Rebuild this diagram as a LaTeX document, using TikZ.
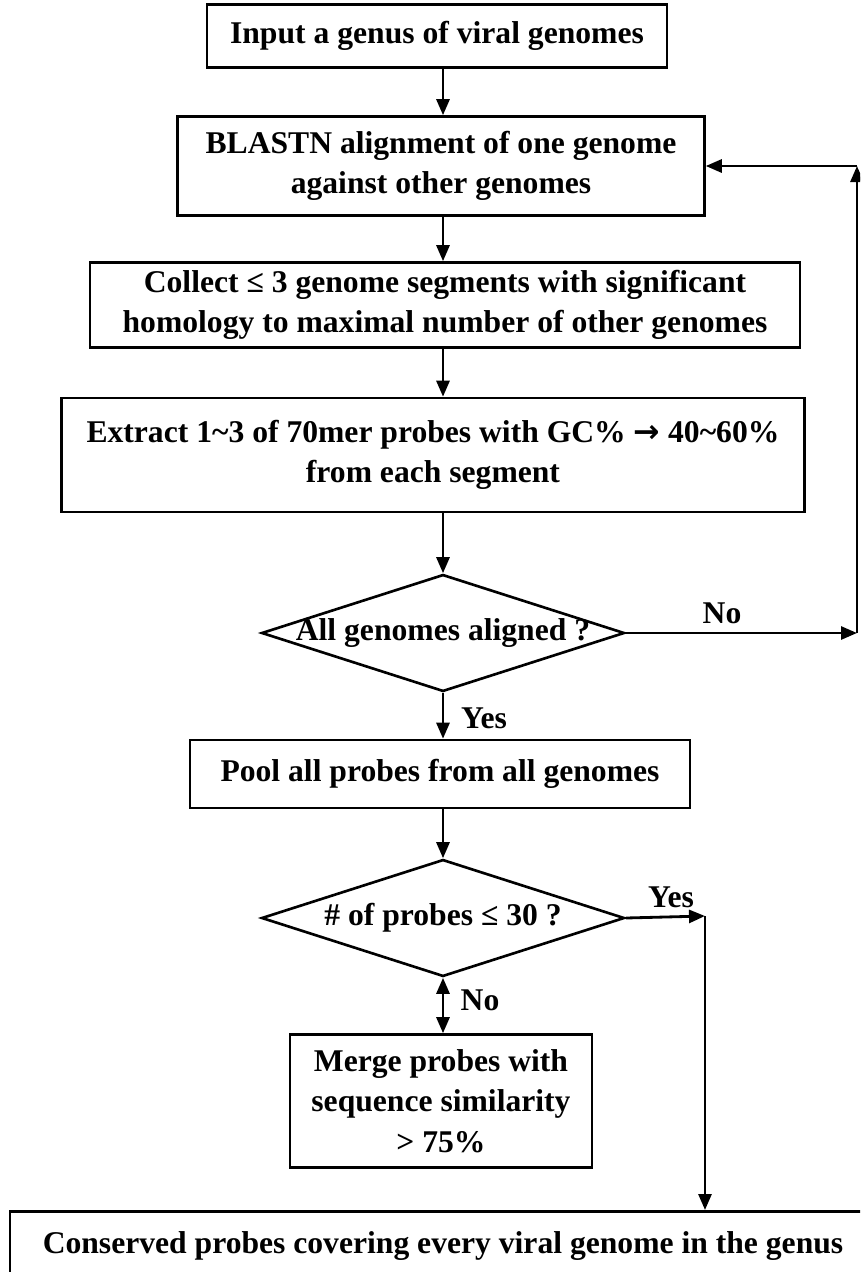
\documentclass[tikz,border=0pt]{standalone}
\usepackage{fontspec}
\setmainfont{Liberation Serif}
\newfontfamily\arrowfont{DejaVu Sans}
\usetikzlibrary{shapes.geometric,arrows.meta}
\begin{document}
\begin{tikzpicture}[x=0.02cm,y=-0.02cm,
    every node/.style={font=\fontsize{18}{23}\selectfont\bfseries},
    stepbox/.style={draw,line width=1.5pt,rectangle,align=center,inner sep=2pt},
    decision/.style={draw,line width=1.5pt,diamond,inner sep=0pt,minimum width=7.26cm,minimum height=2.34cm},
    tip/.style={Triangle[length=0.32cm,width=0.26cm]},
    flow/.style={line width=1.6pt,-{Triangle[length=0.32cm,width=0.26cm]}},
    twoway/.style={line width=1.6pt,{Triangle[length=0.32cm,width=0.26cm]}-{Triangle[length=0.32cm,width=0.26cm]}},
    tag/.style={inner sep=0pt}]
                \clip (0,0) rectangle (860,1272);
                \node[stepbox,minimum width=9.2cm,minimum height=1.26cm] (input) at (437,36) {Input a genus of viral genomes};
                \node[stepbox,minimum width=10.54cm,minimum height=1.98cm] (blast) at (441,166) {BLASTN alignment of one genome\\against other genomes};
                \node[stepbox,minimum width=14.2cm,minimum height=1.7cm] (collect) at (445,305) {Collect ≤ 3 genome segments with significant\\homology to maximal number of other genomes};
                \node[stepbox,minimum width=14.86cm,minimum height=2.28cm] (extract) at (433,455) {Extract 1\textasciitilde3 of 70mer probes with GC\% {\arrowfont →} 40\textasciitilde60\%\\from each segment};
                \node[decision,label={center:All genomes aligned ?}] (aligned) at (443,633) {};
                \node[stepbox,minimum width=10cm,minimum height=1.36cm] (pool) at (440,774) {Pool all probes from all genomes};
                \node[decision,label={center:\# of probes ≤ 30 ?}] (count) at (443,918) {};
                \node[stepbox,minimum width=6.04cm,minimum height=2.66cm] (merge) at (441,1101) {Merge probes with\\sequence similarity\\> 75\%};
                \node[stepbox,minimum width=17.32cm,minimum height=1.4cm,anchor=north] (final) at (443,1210) {Conserved probes covering every viral genome in the genus};

                \coordinate (noturn) at (857,633);
                \coordinate (noup) at (857,166);
                \coordinate (yesturn) at (705,916);

                \draw[flow] (input.south -| aligned) -- (blast.north -| aligned);
                \draw[flow] (blast.south -| aligned) -- (collect.north -| aligned);
                \draw[flow] (collect.south -| aligned) -- (extract.north -| aligned);
                \draw[flow] (extract.south -| aligned) -- (aligned.north);
                \draw[flow] (aligned.east) -- (noturn);
                \draw[flow] (noturn) -- (noup);
                \draw[flow] (noup) -- (blast.east);
                \draw[flow] (aligned.south) -- (pool.north -| aligned);
                \draw[flow] (pool.south -| aligned) -- (count.north);
                \draw[flow] (count.east) -- (yesturn);
                \draw[flow] (yesturn) -- (yesturn |- final.north);
                \draw[twoway] (count.south) -- (merge.north -| count);

                \node[tag] (nolabel) at (722,613) {No};
                \node[tag] (yeslabel) at (484,718) {Yes};
                \node[tag] (yestwo) at (671,897) {Yes};
                \node[tag] (notwo) at (480,1000) {No};
            \end{tikzpicture}
\end{document}
